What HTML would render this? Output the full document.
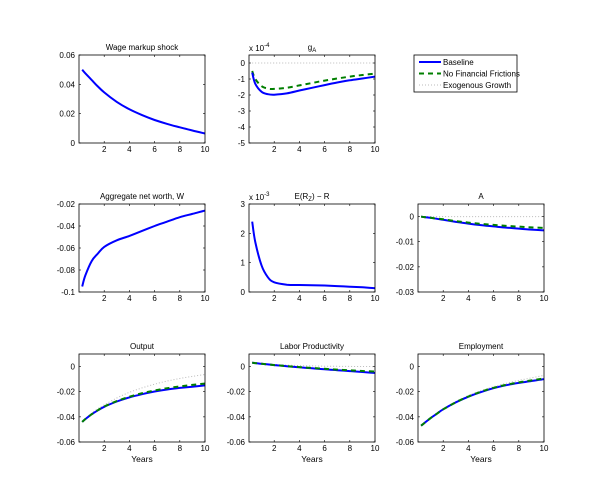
<!DOCTYPE html>
<html><head><meta charset="utf-8"><style>
body{margin:0;background:#fff;width:600px;height:497px;overflow:hidden}
svg{font-family:"Liberation Sans",Arial,sans-serif}
</style></head><body>
<svg id="fig" width="600" height="497" viewBox="0 0 600 497"></svg>
<script>
const T = [0.25,0.5,1,1.5,2,3,4,5,6,7,8,9,10];
const xTicks = [2,4,6,8,10];
const wageBase = [0.05,0.0475,0.043,0.0385,0.0345,0.028,0.023,0.019,0.0157,0.013,0.0107,0.0085,0.0065];
const gaBase = [-0.6,-1.3,-1.8,-1.95,-1.98,-1.9,-1.72,-1.55,-1.38,-1.22,-1.08,-0.97,-0.85];
const gaNff = [-0.5,-1.0,-1.45,-1.6,-1.62,-1.55,-1.4,-1.25,-1.1,-0.97,-0.85,-0.75,-0.67];
const gaExo = [0,0,0,0,0,0,0,0,0,0,0,0,0];
const wBase = [-0.095,-0.085,-0.072,-0.065,-0.059,-0.053,-0.049,-0.0445,-0.04,-0.036,-0.032,-0.029,-0.026];
const erBase = [2.4,1.7,0.9,0.5,0.33,0.25,0.24,0.23,0.22,0.2,0.18,0.16,0.13];
const aBase = [0,-0.0002,-0.0005,-0.0009,-0.0013,-0.0021,-0.0028,-0.0034,-0.0039,-0.0044,-0.0048,-0.0052,-0.0055];
const aNff = [0,-0.0002,-0.0005,-0.0008,-0.0011,-0.0018,-0.0024,-0.0029,-0.0033,-0.0037,-0.004,-0.0043,-0.0045];
const aExo = [0,0,0,0,0,0,0,0,0,0,0,0,0];
const yBase = [-0.044,-0.0418,-0.038,-0.0348,-0.032,-0.0278,-0.0245,-0.022,-0.0198,-0.0182,-0.017,-0.016,-0.015];
const yNff = [-0.044,-0.0418,-0.038,-0.0347,-0.0318,-0.0275,-0.024,-0.0212,-0.019,-0.0172,-0.0158,-0.0146,-0.0135];
const yExo = [-0.044,-0.0415,-0.037,-0.0335,-0.0305,-0.025,-0.0205,-0.017,-0.014,-0.0115,-0.0095,-0.0078,-0.0063];
const lpBase = [0.003,0.0028,0.0022,0.0017,0.0012,0.0003,-0.0006,-0.0014,-0.0022,-0.0029,-0.0036,-0.0043,-0.005];
const lpNff = [0.003,0.0028,0.0022,0.0017,0.0012,0.0004,-0.0004,-0.0011,-0.0018,-0.0024,-0.003,-0.0035,-0.004];
const lpExo = [0.003,0.0028,0.0024,0.002,0.0017,0.0012,0.0008,0.0005,0.0003,0.0002,0.0001,0.00005,0];
const eBase = [-0.047,-0.045,-0.041,-0.0375,-0.034,-0.0285,-0.024,-0.0203,-0.0172,-0.0148,-0.013,-0.0115,-0.01];
const eNff = [-0.047,-0.045,-0.041,-0.0375,-0.034,-0.0284,-0.0238,-0.02,-0.0169,-0.0145,-0.0126,-0.011,-0.0095];
const eExo = [-0.047,-0.045,-0.0408,-0.037,-0.0335,-0.0278,-0.023,-0.0192,-0.016,-0.0133,-0.011,-0.009,-0.007];

const NS='http://www.w3.org/2000/svg';
const svg=document.getElementById('fig');
function mk(tag,attrs,parent){const e=document.createElementNS(NS,tag);for(const k in attrs)e.setAttribute(k,attrs[k]);(parent||svg).appendChild(e);return e;}
const cols=[79,249,418], W=126, rows=[55,204,354], H=88;
const STY={base:{stroke:'#0000ff','stroke-width':2},nff:{stroke:'#007f00','stroke-width':2,'stroke-dasharray':'5,4'},exo:{stroke:'#bbbbbb','stroke-width':1,'stroke-dasharray':'1,2'}};
function smooth(pts){
  let d='M'+pts[0][0].toFixed(1)+','+pts[0][1].toFixed(1);
  for(let i=0;i<pts.length-1;i++){
    const p0=pts[i-1]||pts[i],p1=pts[i],p2=pts[i+1],p3=pts[i+2]||p2;
    const c1=[p1[0]+(p2[0]-p0[0])/6,p1[1]+(p2[1]-p0[1])/6];
    const c2=[p2[0]-(p3[0]-p1[0])/6,p2[1]-(p3[1]-p1[1])/6];
    d+='C'+c1.map(v=>v.toFixed(1)).join(',')+' '+c2.map(v=>v.toFixed(1)).join(',')+' '+p2[0].toFixed(1)+','+p2[1].toFixed(1);
  }
  return d;
}
function panel(name,c,r,title,ymin,ymax,yticks,ylabels,series,opts){
  opts=opts||{};
  const x0=cols[c],y0=rows[r];
  const g=mk('g',{});
  
  
  const sx=v=>x0+v/10*W, sy=v=>y0+H-(v-ymin)/(ymax-ymin)*H;
  const clip='clip-'+name;
  const cp=mk('clipPath',{id:clip},g);mk('rect',{x:x0,y:y0,width:W,height:H},cp);
  const sg=mk('g',{'clip-path':'url(#'+clip+')'},g);
  series.forEach(s=>{
    const d=smooth(T.map((t,i)=>[sx(t),sy(s.v[i])]));
    const p=mk('path',Object.assign({d:d,fill:'none','stroke-linejoin':'round'},STY[s.k]),sg);
    
    
  });
  mk('rect',{x:x0,y:y0,width:W,height:H,fill:'none',stroke:'#000','stroke-width':0.8},g);
  xTicks.forEach(t=>{
    const x=sx(t);
    mk('line',{x1:x,x2:x,y1:y0+H,y2:y0+H-2,stroke:'#000','stroke-width':0.6},g);
    mk('line',{x1:x,x2:x,y1:y0,y2:y0+2,stroke:'#000','stroke-width':0.6},g);
    const tx=mk('text',{x:x,y:y0+H+9,'font-size':8,'text-anchor':'middle'},g);tx.textContent=t;
  });
  yticks.forEach((v,i)=>{
    const y=sy(v);
    mk('line',{x1:x0,x2:x0+2,y1:y,y2:y,stroke:'#000','stroke-width':0.6},g);
    mk('line',{x1:x0+W,x2:x0+W-2,y1:y,y2:y,stroke:'#000','stroke-width':0.6},g);
    const tx=mk('text',{x:x0-4,y:y+3,'font-size':8,'text-anchor':'end'},g);tx.textContent=ylabels[i];
  });
  const tt=mk('text',{x:x0+W/2,y:y0-5,'font-size':8,'text-anchor':'middle'},g);
  
  tt.innerHTML=title;
  if(opts.exp){const ex=mk('text',{x:x0,y:y0-4,'font-size':8},g);ex.innerHTML='x 10<tspan dy="-4" font-size="6">'+opts.exp+'</tspan>';}
  if(opts.years){const yl=mk('text',{x:x0+W/2,y:y0+H+20,'font-size':8.5,'text-anchor':'middle'},g);yl.textContent='Years';}
}
panel('wage-markup-panel',0,0,'Wage markup shock',0,0.06,[0,0.02,0.04,0.06],['0','0.02','0.04','0.06'],[{k:'base',v:wageBase}]);
panel('ga-panel',1,0,'g<tspan font-size="6" dy="2">A</tspan>',-5,0.5,[-5,-4,-3,-2,-1,0],['-5','-4','-3','-2','-1','0'],[{k:'exo',v:gaExo},{k:'nff',v:gaNff},{k:'base',v:gaBase}],{exp:'-4'});
panel('net-worth-panel',0,1,'Aggregate net worth, W',-0.1,-0.02,[-0.1,-0.08,-0.06,-0.04,-0.02],['-0.1','-0.08','-0.06','-0.04','-0.02'],[{k:'base',v:wBase}]);
panel('spread-panel',1,1,'E(R<tspan font-size="6" dy="2">Z</tspan><tspan dy="-2">) − R</tspan>',0,3,[0,1,2,3],['0','1','2','3'],[{k:'base',v:erBase}],{exp:'-3'});
panel('a-panel',2,1,'A',-0.03,0.005,[-0.03,-0.02,-0.01,0],['-0.03','-0.02','-0.01','0'],[{k:'exo',v:aExo},{k:'base',v:aBase},{k:'nff',v:aNff}]);
const yt=[-0.06,-0.04,-0.02,0], yl=['-0.06','-0.04','-0.02','0'];
panel('output-panel',0,2,'Output',-0.06,0.01,yt,yl,[{k:'exo',v:yExo},{k:'base',v:yBase},{k:'nff',v:yNff}],{years:1});
panel('labor-productivity-panel',1,2,'Labor Productivity',-0.06,0.01,yt,yl,[{k:'exo',v:lpExo},{k:'base',v:lpBase},{k:'nff',v:lpNff}],{years:1});
panel('employment-panel',2,2,'Employment',-0.06,0.01,yt,yl,[{k:'exo',v:eExo},{k:'base',v:eBase},{k:'nff',v:eNff}],{years:1});
const lg=mk('g',{});


mk('rect',{x:414,y:55,width:103,height:37,fill:'#fff',stroke:'#000','stroke-width':0.8},lg);
[['base','Baseline'],['nff','No Financial Frictions'],['exo','Exogenous Growth']].forEach((e,i)=>{
  const y=62+i*11.5;
  const en=mk('g',{},lg);
  
  
  mk('line',Object.assign({x1:419,x2:441,y1:y,y2:y},STY[e[0]]),en);
  const t=mk('text',{x:443,y:y+3,'font-size':8},en);t.textContent=e[1];
});
</script>
</body></html>
